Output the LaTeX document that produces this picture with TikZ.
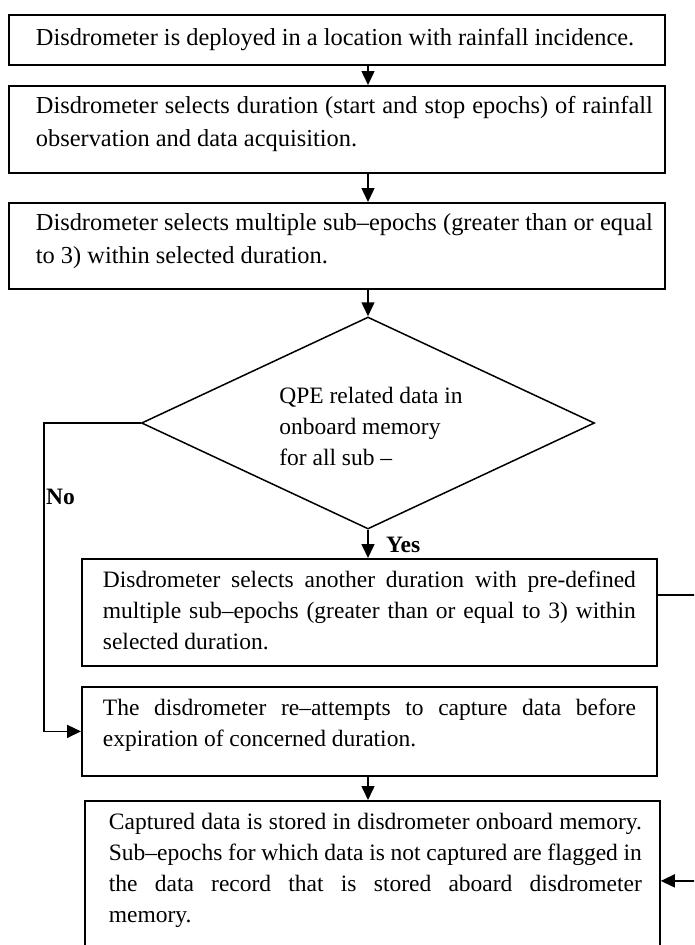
\documentclass[tikz,border=0pt]{standalone}
\usepackage{fontspec}
\setmainfont{Liberation Serif}
\usetikzlibrary{arrows.meta,shapes.geometric}
% #1 width, #2 height, #3 text, #4 left pad, #5 right pad
\newcommand\boxtext[5]{\hspace*{#4}\parbox[c][#2][t]{#1}{\tolerance=10000\hyphenpenalty=10000\strut #3}\hspace*{#5}}
\begin{document}
\begin{tikzpicture}[x=1pt,y=-1pt,
  font=\fontsize{23.5}{31}\selectfont,
  box/.style={draw, line width=1.8pt, rectangle, anchor=north west, inner xsep=0pt, inner ysep=7.3pt},
  topbox/.style={box, font=\fontsize{24.4}{33}\selectfont, inner ysep=4.4pt},
  dec/.style={draw, diamond, line width=1.5pt, aspect=2.14, minimum width=453pt, minimum height=212pt, inner sep=0pt},
  arr/.style={line width=1.5pt, -{Triangle[width=13pt,length=14pt]}},
  lbl/.style={font=\fontsize{23.5}{31}\selectfont\bfseries, inner sep=0pt}]
\useasboundingbox (0,0) rectangle (694,945);
\fill[white] (0,0) rectangle (694,945);
\clip (0,0) rectangle (694,945);

\node[topbox, inner ysep=7.4pt] (b1) at (8,14)
  {\boxtext{617pt}{35.2pt}{Disdrometer is deployed in a location with rainfall incidence.}{27pt}{12pt}};
\node[topbox] (b2) at (8,85)
  {\boxtext{617pt}{78.2pt}{Disdrometer selects duration (start and stop epochs) of rainfall\linebreak observation and data acquisition.}{27pt}{12pt}};
\node[topbox] (b3) at (8,202)
  {\boxtext{617pt}{77.2pt}{Disdrometer selects multiple sub–epochs (greater than or equal\linebreak to 3) within selected duration.}{27pt}{12pt}};
\node[dec] (d) at (368,423)
  {\hspace*{6pt}\raisebox{-5pt}[\height][\depth]{\begin{tabular}{@{}l@{}}QPE related data in\\onboard memory\\for all sub –\end{tabular}}};
\node[box] (b5) at (81,558)
  {\boxtext{533pt}{92.4pt}{Disdrometer selects another duration with pre-defined\linebreak multiple sub–epochs (greater than or equal to 3) within\linebreak selected duration.}{21pt}{21pt}};
\node[box] (b6) at (81,686)
  {\boxtext{533pt}{74.4pt}{The disdrometer re–attempts to capture data before\linebreak expiration of concerned duration.}{21pt}{21pt}};
\node[box] (b7) at (84,800)
  {\boxtext{533pt}{145.4pt}{Captured data is stored in disdrometer onboard memory.\linebreak Sub–epochs for which data is not captured are flagged in\linebreak the data record that is stored aboard disdrometer\linebreak memory.}{24pt}{18pt}};

\node[lbl, anchor=west] (no) at (46,497) {No};
\node[lbl, anchor=west] (yes) at (386,545) {Yes};

\draw[arr] (b1.south -| d.center) -- (b2.north -| d.center);
\draw[arr] (b2.south -| d.center) -- (b3.north -| d.center);
\draw[arr] (b3.south -| d.center) -- (d.north);
\draw[arr] (d.south) -- (b5.north -| d.south);
\draw[arr] (d.west) -- ++(-97,0) |- (b6.west);
\draw[arr] (b6.south -| d.center) -- (b7.north -| d.center);
\draw[arr] (b5.north east) ++(0,37) -- ++(60,0) |- (b7.east);
\end{tikzpicture}
\end{document}
